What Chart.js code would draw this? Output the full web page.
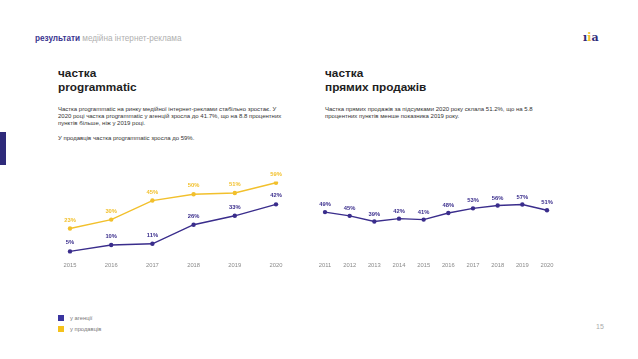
<!DOCTYPE html>
<html>
<head>
<meta charset="utf-8">
<script src="https://cdn.jsdelivr.net/npm/chart.js@4"></script>
<style>
html,body{margin:0;padding:0;background:#fff;}
body{width:638px;height:359px;position:relative;overflow:hidden;font-family:"Liberation Sans",Arial,sans-serif;}
.abs{position:absolute;white-space:nowrap;}
.hdr{left:35px;top:34px;font-size:8.2px;color:#b0b0b0;}
.hdr b{color:#3a3590;}
.title{font-size:11.8px;font-weight:bold;color:#1e1e1e;line-height:14px;}
.body{font-size:6px;color:#333;line-height:7.4px;}
.leg{font-size:5.8px;color:#777;}
.sq{position:absolute;width:6px;height:6px;}
canvas{position:absolute;}
</style>
</head>
<body>
<div class="abs hdr"><b>результати</b> медійна інтернет-реклама</div>
<div class="abs" style="left:583px;top:31px;font-family:'DejaVu Serif',serif;font-weight:bold;font-size:11px;letter-spacing:0px;"><span style="color:#2e2a7a">ı</span><span style="color:#f2c02c">i</span><span style="color:#2e2a7a">a</span></div>
<div class="abs" style="left:0;top:132px;width:6px;height:33px;background:#2e2a7a;"></div>

<div class="abs title" style="left:58px;top:66px;">частка<br>programmatic</div>
<div class="abs body" style="left:58px;top:105.5px;">Частка programmatic на ринку медійної інтернет-реклами стабільно зростає. У<br>2020 році частка programmatic у агенцій зросла до 41.7%, що на 8.8 процентних<br>пунктів більше, ніж у 2019 році.<br><br>У продавців частка programmatic зросла до 59%.</div>

<div class="abs title" style="left:325px;top:66px;">частка<br>прямих продажів</div>
<div class="abs body" style="left:325px;top:105.5px;">Частка прямих продажів за підсумками 2020 року склала 51.2%, що на 5.8<br>процентних пунктів менше показника 2019 року.</div>

<canvas id="c1" width="260" height="110" style="left:40px;top:170px;"></canvas>
<canvas id="c2" width="270" height="110" style="left:300px;top:170px;"></canvas>

<div class="sq" style="left:58px;top:315px;background:#3a35a0;"></div>
<div class="sq" style="left:58px;top:326px;background:#f5c21c;"></div>
<div class="abs leg" style="left:70px;top:314.5px;">у агенції</div>
<div class="abs leg" style="left:70px;top:325.5px;">у продавців</div>
<div class="abs leg" style="left:596px;top:323px;font-size:7px;color:#aaa;">15</div>

<script>
const BLUE = '#3a2d8c';
const YELLOW = '#f2c02c';

const progYears = ['2015','2016','2017','2018','2019','2020'];
const agencyShare = [5, 10, 11, 26, 33, 42];
const sellerShare = [23, 30, 45, 50, 51, 59];

const directYears = ['2011','2012','2013','2014','2015','2016','2017','2018','2019','2020'];
const directShare = [49, 45, 39, 42, 41, 48, 53, 56, 57, 51];

const valueLabels = {
  id: 'valueLabels',
  afterDatasetsDraw(chart, args, opts) {
    const ctx = chart.ctx;
    ctx.save();
    ctx.font = 'bold 5.8px "Liberation Sans", Arial, sans-serif';
    ctx.textAlign = 'center';
    ctx.textBaseline = 'middle';
    chart.data.datasets.forEach((ds, i) => {
      const meta = chart.getDatasetMeta(i);
      ctx.fillStyle = ds.borderColor;
      meta.data.forEach((pt, j) => {
        ctx.fillText(ds.data[j] + '%', pt.x, pt.y - opts.offset);
      });
    });
    ctx.restore();
  }
};

function makeOpts(max, pad, offset) {
  return {
    responsive: false,
    animation: false,
    layout: { padding: pad },
    plugins: { legend: { display: false }, tooltip: { enabled: false }, valueLabels: { offset } },
    scales: {
      y: { display: false, min: 0, max: max },
      x: {
        offset: false,
        grid: { display: false, drawTicks: false },
        border: { display: false },
        ticks: { padding: 4, color: '#8a8a8a', font: { size: 5.8, family: '"Liberation Sans", Arial, sans-serif' }, maxRotation: 0, autoSkip: false }
      }
    }
  };
}

function ds(data, color) {
  return { data, borderColor: color, backgroundColor: color, borderWidth: 1.4, pointRadius: 2.2, pointBackgroundColor: color, pointBorderWidth: 0, tension: 0 };
}

new Chart(document.getElementById('c1'), {
  type: 'line',
  data: { labels: progYears, datasets: [ds(sellerShare, YELLOW), ds(agencyShare, BLUE)] },
  options: makeOpts(60, { left: 30, right: 24, top: 11.5, bottom: 7.3 }, 8.5),
  plugins: [valueLabels]
});

new Chart(document.getElementById('c2'), {
  type: 'line',
  data: { labels: directYears, datasets: [ds(directShare, BLUE)] },
  options: makeOpts(80, { left: 25, right: 23, top: 13, bottom: 7 }, 7.5),
  plugins: [valueLabels]
});
</script>
</body>
</html>
